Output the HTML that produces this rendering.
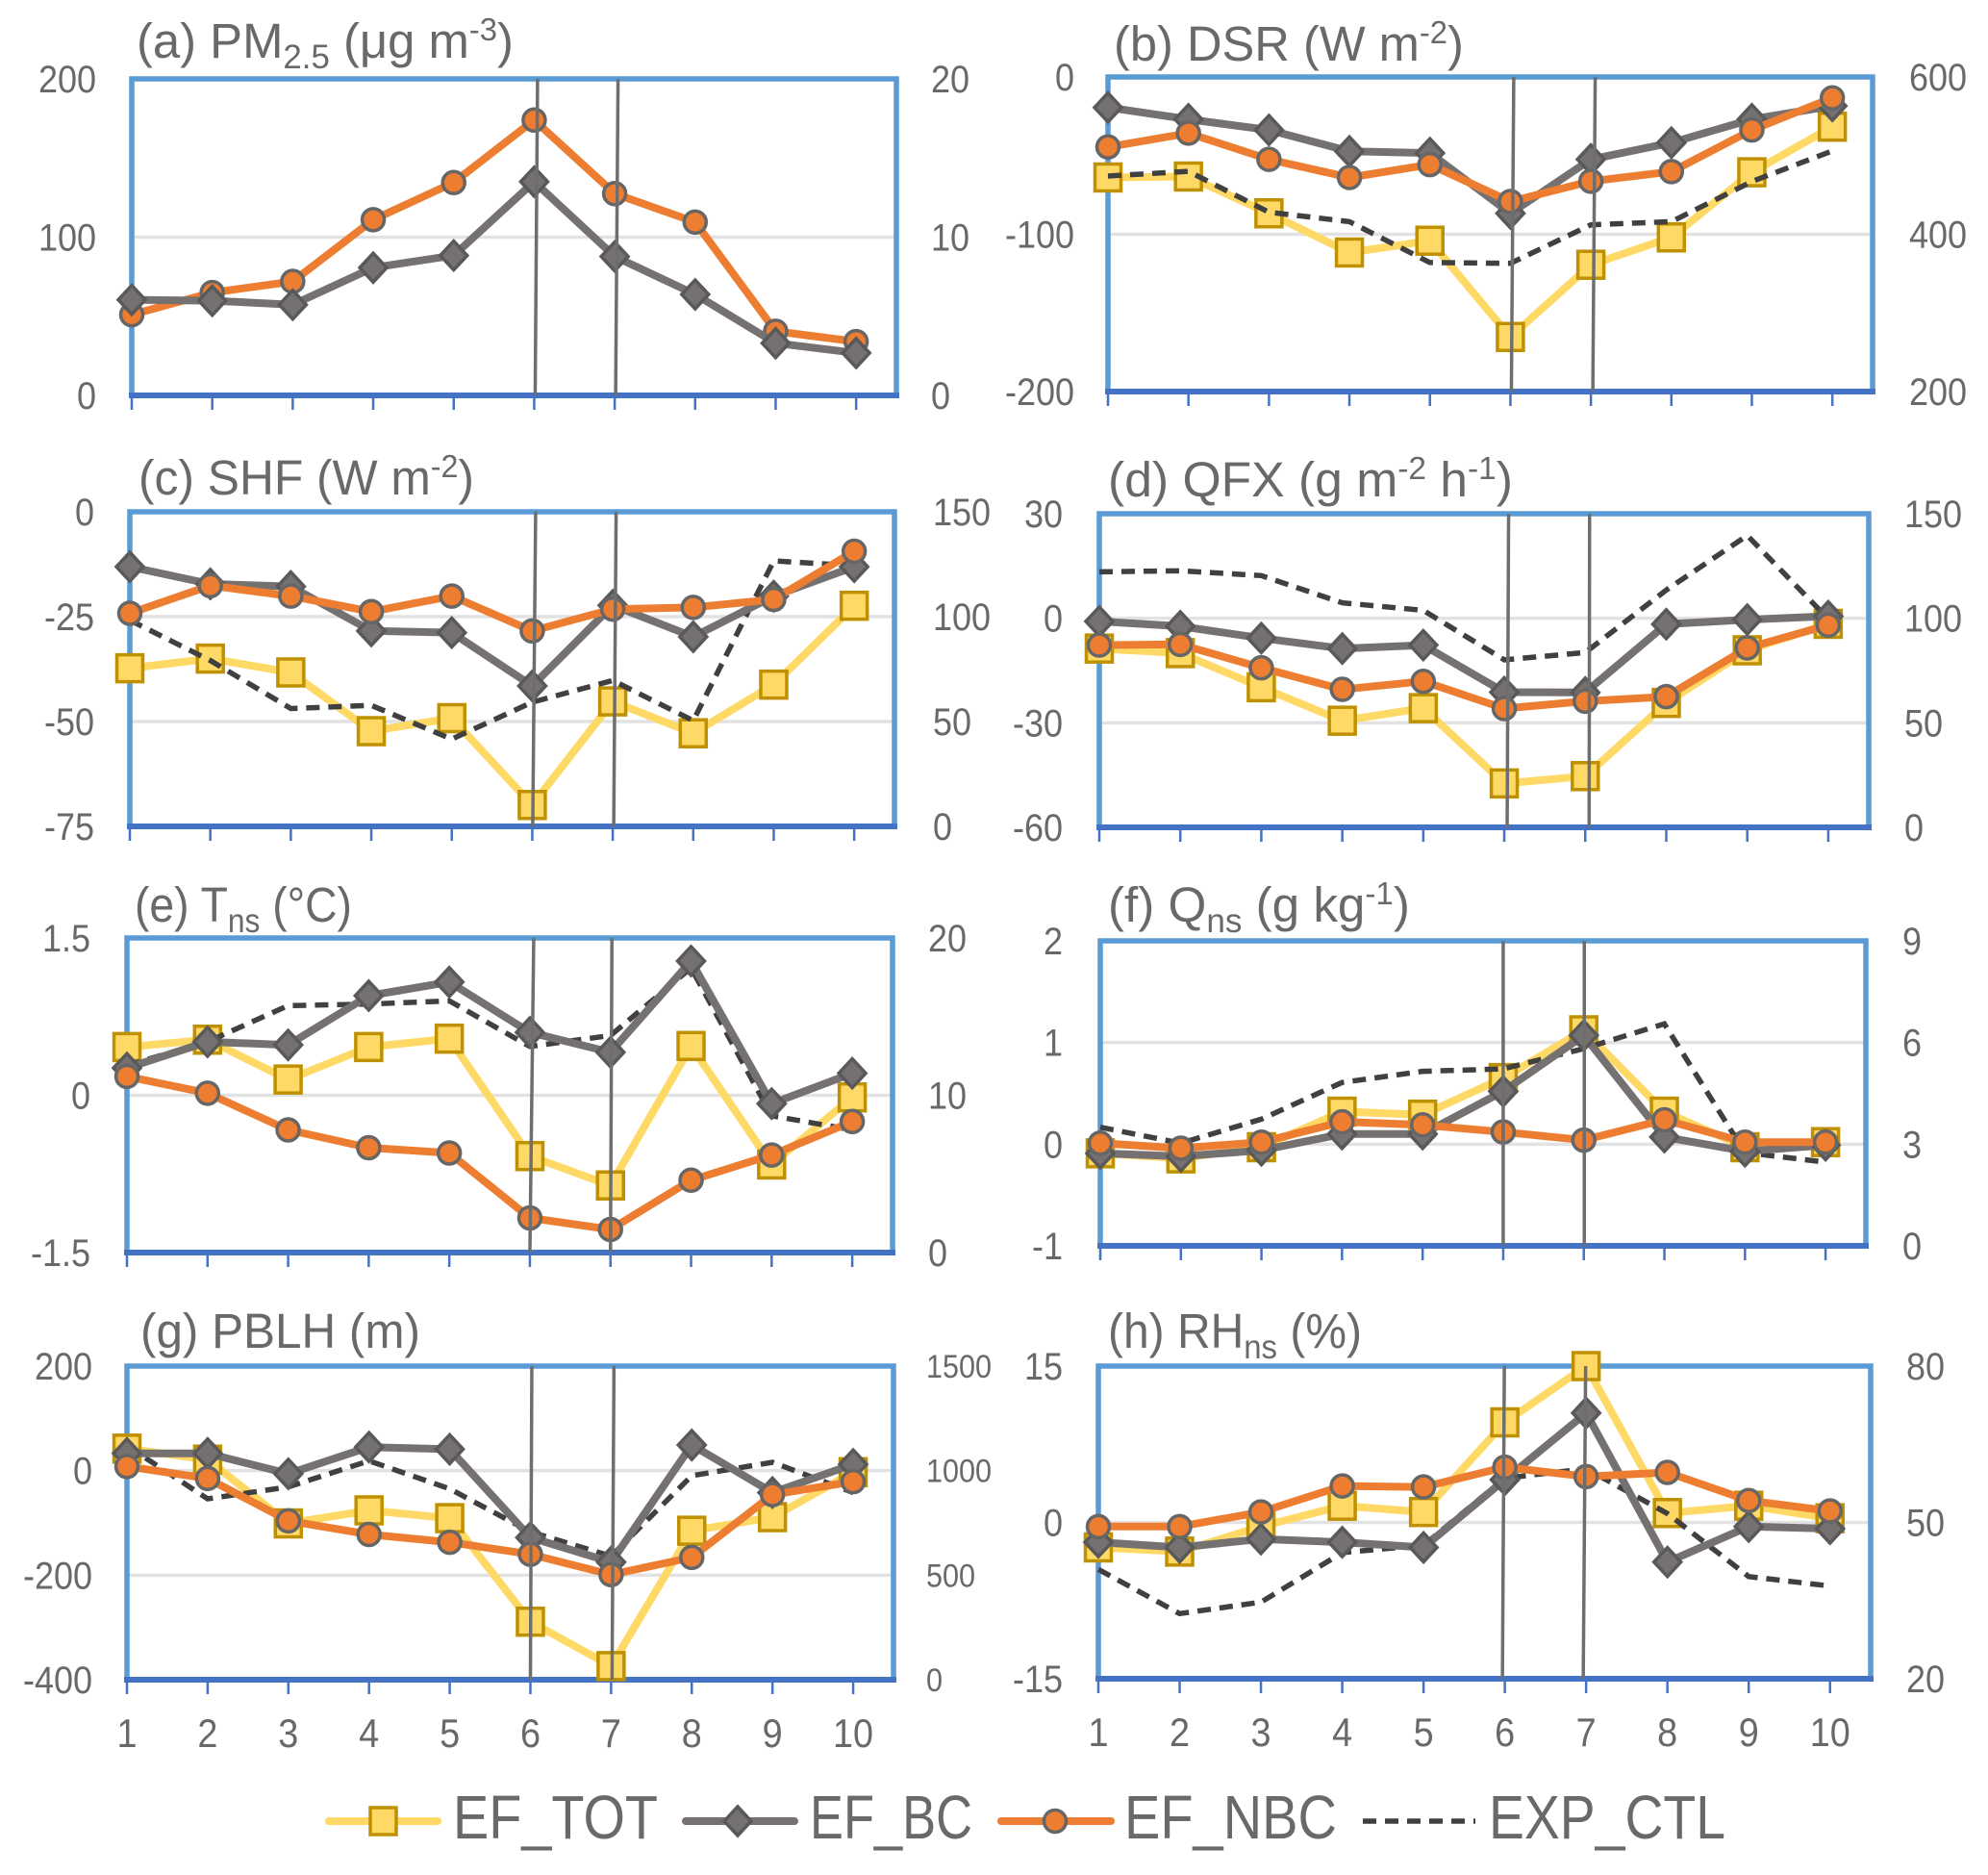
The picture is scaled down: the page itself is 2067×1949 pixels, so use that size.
<!DOCTYPE html>
<html lang="en">
<head>
<meta charset="utf-8">
<title>EF monthly response panels</title>
<style>
html,body{margin:0;padding:0;background:#fff;}
svg{display:block;}
text{font-family:"Liberation Sans",sans-serif;fill:#696969;}
</style>
</head>
<body>
<svg id="chart" width="2067" height="1949" viewBox="0 0 2067 1949" xmlns="http://www.w3.org/2000/svg">
  <rect width="2067" height="1949" fill="#ffffff"/>
  <g id="panels"></g>
  <g id="titles" font-size="51">
    <text class="fit" data-x0="142" data-x1="534" data-base="60">(a) PM<tspan font-size="35" dy="11">2.5</tspan><tspan dy="-11"> (μg m</tspan><tspan font-size="33" dy="-18">-3</tspan><tspan dy="18">)</tspan></text>
    <text class="fit" data-x0="1158" data-x1="1522" data-base="63">(b) DSR (W m<tspan font-size="33" dy="-18">-2</tspan><tspan dy="18">)</tspan></text>
    <text class="fit" data-x0="144" data-x1="493" data-base="514">(c) SHF (W m<tspan font-size="33" dy="-18">-2</tspan><tspan dy="18">)</tspan></text>
    <text class="fit" data-x0="1152" data-x1="1573" data-base="516">(d) QFX (g m<tspan font-size="33" dy="-18">-2</tspan><tspan dy="18"> h</tspan><tspan font-size="33" dy="-18">-1</tspan><tspan dy="18">)</tspan></text>
    <text class="fit" data-x0="140" data-x1="366" data-base="958">(e) T<tspan font-size="35" dy="11">ns</tspan><tspan dy="-11"> (°C)</tspan></text>
    <text class="fit" data-x0="1152" data-x1="1466" data-base="958">(f) Q<tspan font-size="35" dy="11">ns</tspan><tspan dy="-11"> (g kg</tspan><tspan font-size="33" dy="-18">-1</tspan><tspan dy="18">)</tspan></text>
    <text class="fit" data-x0="146" data-x1="437" data-base="1401">(g) PBLH (m)</text>
    <text class="fit" data-x0="1152" data-x1="1416" data-base="1401">(h) RH<tspan font-size="35" dy="11">ns</tspan><tspan dy="-11"> (%)</tspan></text>
  </g>
  <g id="legend">
    <g>
      <line x1="342" y1="1893" x2="455" y2="1893" stroke="#FFD966" stroke-width="8" stroke-linecap="round"/>
      <rect x="385" y="1879" width="27" height="28" fill="#FFD966" stroke="#BF9000" stroke-width="3.5"/>
      <text class="fit" data-x0="471" data-x1="684" data-base="1911" font-size="64">EF_TOT</text>
    </g>
    <g>
      <line x1="713" y1="1893" x2="826" y2="1893" stroke="#767171" stroke-width="8" stroke-linecap="round"/>
      <polygon points="767,1878 781,1893 767,1908 753,1893" fill="#767171" stroke="#595959" stroke-width="3.5"/>
      <text class="fit" data-x0="842" data-x1="1011" data-base="1911" font-size="64">EF_BC</text>
    </g>
    <g>
      <line x1="1041" y1="1893" x2="1155" y2="1893" stroke="#ED7D31" stroke-width="8" stroke-linecap="round"/>
      <circle cx="1097" cy="1893" r="11.5" fill="#ED7D31" stroke="#666666" stroke-width="3.5"/>
      <text class="fit" data-x0="1169" data-x1="1390" data-base="1911" font-size="64">EF_NBC</text>
    </g>
    <g>
      <line x1="1417" y1="1893" x2="1534" y2="1893" stroke="#404040" stroke-width="5.5" stroke-dasharray="14 9"/>
      <text class="fit" data-x0="1548" data-x1="1794" data-base="1911" font-size="64">EXP_CTL</text>
    </g>
  </g>
</svg>
<script>
// ---- shared categories ----
const categories = [1, 2, 3, 4, 5, 6, 7, 8, 9, 10];

// ---- (a) PM2.5 ----
const pmLeftTicks = [200, 100, 0];
const pmRightTicks = [20, 10, 0];
const pmBc = [60.4, 59.8, 57.3, 80.7, 88.4, 135, 87.8, 63.8, 33, 26.8];
const pmNbc = [51, 65, 72, 111, 134.5, 174, 127.5, 109.5, 40.5, 34];

// ---- (b) DSR ----
const dsrLeftTicks = [0, -100, -200];
const dsrRightTicks = [600, 400, 200];
const dsrTot = [-63.9, -63.3, -86.7, -111.6, -104.1, -165.3, -119.4, -102, -60.6, -31.6];
const dsrBc = [-19.4, -26.9, -33.7, -47.3, -48.4, -86.7, -52.4, -41.8, -26.9, -18.4];
const dsrNbc = [-44.5, -35.7, -52.4, -63.9, -55.7, -79.2, -66.3, -60.2, -33.7, -13.3];
const dsrCtl = [474, 480, 428, 416, 364, 363, 412, 416, 467, 506];

// ---- (c) SHF ----
const shfLeftTicks = [0, -25, -50, -75];
const shfRightTicks = [150, 100, 50, 0];
const shfTot = [-37.3, -35, -38.3, -52.3, -49.2, -69.9, -45.2, -52.8, -41.2, -22.4];
const shfBc = [-13.1, -17.2, -17.8, -28.4, -28.8, -41.5, -22.3, -29.8, -20.1, -13.1];
const shfNbc = [-24.2, -17.6, -20.1, -23.8, -20.1, -28.4, -23.2, -22.8, -20.9, -9.4];
const shfCtl = [98.3, 79.1, 56.2, 57.7, 41.6, 59.2, 69.6, 50.4, 126.6, 124.3];

// ---- (d) QFX ----
const qfxLeftTicks = [30, 0, -30, -60];
const qfxRightTicks = [150, 100, 50, 0];
const qfxTot = [-8.7, -10, -19.8, -29.4, -25.8, -47.4, -45.3, -24.3, -9.2, -1.6];
const qfxBc = [-0.9, -2.3, -5.7, -8.7, -7.7, -21.2, -21.3, -1.7, -0.4, 0.6];
const qfxNbc = [-7.7, -7.5, -14.2, -20.4, -18.1, -25.9, -23.8, -22.5, -8.5, -2];
const qfxCtl = [122.2, 122.7, 120.4, 107.4, 103.8, 80.1, 83.6, 113.5, 139.6, 99.7];

// ---- (e) Tns ----
const tnsLeftTicks = [1.5, 0, -1.5];
const tnsRightTicks = [20, 10, 0];
const tnsTot = [0.46, 0.53, 0.15, 0.46, 0.54, -0.58, -0.86, 0.47, -0.66, -0.02];
const tnsBc = [0.26, 0.51, 0.48, 0.95, 1.08, 0.6, 0.41, 1.28, -0.08, 0.21];
const tnsNbc = [0.18, 0.02, -0.33, -0.5, -0.55, -1.17, -1.28, -0.81, -0.57, -0.25];
const tnsCtl = [11.9, 13.4, 15.7, 15.8, 16.0, 13.1, 13.8, 18.1, 8.7, 7.8];

// ---- (f) Qns ----
const qnsLeftTicks = [2, 1, 0, -1];
const qnsRightTicks = [9, 6, 3, 0];
const qnsTot = [-0.09, -0.14, -0.03, 0.32, 0.29, 0.65, 1.12, 0.32, -0.03, 0.02];
const qnsBc = [-0.09, -0.12, -0.06, 0.1, 0.1, 0.52, 1.07, 0.07, -0.07, -0.01];
const qnsNbc = [0.01, -0.04, 0.02, 0.22, 0.19, 0.12, 0.04, 0.24, 0.02, 0.02];
const qnsCtl = [3.5, 3.03, 3.74, 4.82, 5.15, 5.22, 5.82, 6.55, 2.75, 2.47];

// ---- (g) PBLH ----
const pblhLeftTicks = [200, 0, -200, -400];
const pblhRightTicks = [1500, 1000, 500, 0];
const pblhTot = [42, 21, -101, -76, -91, -289, -374, -115, -89, -3];
const pblhBc = [33, 33, -6, 45, 41, -128, -175, 49, -42, 12];
const pblhNbc = [8, -15, -96, -122, -137, -160, -199, -166, -46, -21];
const pblhCtl = [1119, 865, 922, 1047, 913, 707, 591, 976, 1040, 895];

// ---- (h) RHns ----
const rhLeftTicks = [15, 0, -15];
const rhRightTicks = [80, 50, 20];
const rhTot = [-2.4, -2.8, -0.4, 1.6, 1, 9.6, 15, 0.9, 1.6, 0.4];
const rhBc = [-1.9, -2.4, -1.6, -1.9, -2.4, 4.1, 10.5, -3.8, -0.4, -0.6];
const rhNbc = [-0.4, -0.4, 1, 3.5, 3.4, 5.3, 4.4, 4.8, 2.1, 1.1];
const rhCtl = [41, 32.5, 34.7, 44.2, 45.6, 58.5, 60.3, 51.7, 39.6, 37.8];

// ---- panel layout ----
const panels = [
  {id:'a', L:137, R:932, T:82, B:411, lRight:100, rLeft:968, rSize:40, lt:pmLeftTicks, rt:pmRightTicks, nbc:pmNbc, bc:pmBc, bcOver:true, v:[[1,3.5],[1,3.5]]},
  {id:'b', L:1152, R:1947, T:80, B:407, lRight:1117, rLeft:1985, rSize:40, lt:dsrLeftTicks, rt:dsrRightTicks, tot:dsrTot, bc:dsrBc, nbc:dsrNbc, ctl:dsrCtl, v:[[1,3.5],[2,4.5]]},
  {id:'c', L:135, R:930, T:532, B:859, lRight:98, rLeft:970, rSize:40, lt:shfLeftTicks, rt:shfRightTicks, tot:shfTot, bc:shfBc, nbc:shfNbc, ctl:shfCtl, v:[[0.5,3.5],[1,3.5]]},
  {id:'d', L:1143, R:1943, T:534, B:860, lRight:1105, rLeft:1980, rSize:40, lt:qfxLeftTicks, rt:qfxRightTicks, tot:qfxTot, bc:qfxBc, nbc:qfxNbc, ctl:qfxCtl, v:[[3,4.5],[4,4.5]]},
  {id:'e', L:132, R:928, T:975, B:1302, lRight:94, rLeft:965, rSize:40, lt:tnsLeftTicks, rt:tnsRightTicks, tot:tnsTot, bc:tnsBc, nbc:tnsNbc, ctl:tnsCtl, v:[[0,4],[0,1.5]]},
  {id:'f', L:1144, R:1940, T:978, B:1295, lRight:1105, rLeft:1978, rSize:40, lt:qnsLeftTicks, rt:qnsRightTicks, tot:qnsTot, bc:qnsBc, nbc:qnsNbc, ctl:qnsCtl, v:[[0,0],[0.5,0.5]]},
  {id:'g', L:132, R:929, T:1420, B:1746, lRight:96, rLeft:963, rSize:34, lt:pblhLeftTicks, rt:pblhRightTicks, tot:pblhTot, bc:pblhBc, nbc:pblhNbc, ctl:pblhCtl, v:[[0,1.5],[1,3]], xLabels:true},
  {id:'h', L:1142, R:1945, T:1420, B:1745, lRight:1105, rLeft:1982, rSize:40, lt:rhLeftTicks, rt:rhRightTicks, tot:rhTot, bc:rhBc, nbc:rhNbc, ctl:rhCtl, v:[[-2.5,-0.5],[-3,-0.5]], xLabels:true}
];

const NS = 'http://www.w3.org/2000/svg';
const SPAN = 9.5;
const NARROW = 0.9;

function make(tag, attrs, parent) {
  const el = document.createElementNS(NS, tag);
  for (const k in attrs) el.setAttribute(k, attrs[k]);
  parent.appendChild(el);
  return el;
}
function xScale(p, c) { return p.L + (c - 1) * (p.R - p.L) / SPAN; }
function axisY(p, ticks, v) {
  const hi = ticks[0], lo = ticks[ticks.length - 1];
  return p.T + (hi - v) / (hi - lo) * (p.B - p.T);
}
function linePath(p, ticks, values) {
  return values.map(function (v, i) {
    return xScale(p, categories[i]).toFixed(1) + ',' + axisY(p, ticks, v).toFixed(1);
  }).join(' ');
}
function narrowText(parent, x, y, size, anchor, str) {
  const t = make('text', {transform:'translate(' + x + ',' + y + ') scale(' + NARROW + ',1)', 'text-anchor':anchor, 'font-size':size}, parent);
  t.textContent = str;
  return t;
}

function drawMarker(kind, x, y, g) {
  let m;
  if (kind === 'tot') {
    m = make('rect', {x:x-13.5, y:y-14, width:27, height:28, fill:'#FFD966', stroke:'#BF9000', 'stroke-width':3.5}, g);
  } else if (kind === 'bc') {
    const pts = x+','+(y-15)+' '+(x+14)+','+y+' '+x+','+(y+15)+' '+(x-14)+','+y;
    m = make('polygon', {points:pts, fill:'#767171', stroke:'#595959', 'stroke-width':3.5}, g);
  } else {
    m = make('circle', {cx:x, cy:y, r:11.5, fill:'#ED7D31', stroke:'#666666', 'stroke-width':3.5}, g);
  }
  return m;
}

function drawSeries(p, kind, values, g) {
  const colors = {tot:'#FFD966', bc:'#767171', nbc:'#ED7D31'};
  const sg = make('g', {}, g);
  
  
  const line = make('polyline', {points:linePath(p, p.lt, values), fill:'none', stroke:colors[kind], 'stroke-width':8, 'stroke-linejoin':'round'}, sg);
  
  
  values.forEach(function (v, i) {
    const m = drawMarker(kind, xScale(p, categories[i]), axisY(p, p.lt, v), sg);
    
    
  });
}

const root = document.getElementById('panels');
panels.forEach(function (p) {
  const g = make('g', {}, root);
  
  

  // gridlines
  p.lt.slice(1, -1).forEach(function (t) {
    const y = axisY(p, p.lt, t);
    const gl = make('line', {x1:p.L, x2:p.R, y1:y, y2:y, stroke:'#E2E2E2', 'stroke-width':3.5}, g);
    
    
  });

  // frame
  const fr = make('polyline', {points:p.L+','+p.B+' '+p.L+','+p.T+' '+p.R+','+p.T+' '+p.R+','+p.B, fill:'none', stroke:'#5B9BD5', 'stroke-width':5.5}, g);
  
  
  const ax = make('line', {x1:p.L-3, x2:p.R+3, y1:p.B, y2:p.B, stroke:'#4472C4', 'stroke-width':6}, g);
  
  

  // x ticks and labels
  categories.forEach(function (c) {
    const x = xScale(p, c);
    const tk = make('line', {x1:x, x2:x, y1:p.B, y2:p.B+15, stroke:'#4472C4', 'stroke-width':2.5}, g);
    
    
    if (p.xLabels) {
      const xl = narrowText(g, x, p.B + 70, 42, 'middle', String(c));
      
      
    }
  });

  // y tick labels
  p.lt.forEach(function (t) {
    const tl = narrowText(g, p.lRight, axisY(p, p.lt, t) + 14, 40, 'end', String(t));
    
    
  });
  p.rt.forEach(function (t) {
    const tr = narrowText(g, p.rLeft, axisY(p, p.rt, t) + (p.rSize === 40 ? 14 : 12), p.rSize, 'start', String(t));
    
    
  });

  // series
  if (p.tot) drawSeries(p, 'tot', p.tot, g);
  if (p.ctl) {
    const ctl = make('polyline', {points:linePath(p, p.rt, p.ctl), fill:'none', stroke:'#404040', 'stroke-width':5.5, 'stroke-dasharray':'14 9'}, g);
    
    
  }
  if (p.bcOver) {
    drawSeries(p, 'nbc', p.nbc, g);
    drawSeries(p, 'bc', p.bc, g);
  } else {
    drawSeries(p, 'bc', p.bc, g);
    drawSeries(p, 'nbc', p.nbc, g);
  }

  // vertical marker lines at categories 6 and 7
  [6, 7].forEach(function (c, i) {
    const x = xScale(p, c);
    const vl = make('line', {x1:x+p.v[i][0], y1:p.B, x2:x+p.v[i][1], y2:p.T, stroke:'#6E6E6E', 'stroke-width':3.5}, g);
    
    
  });
});

// stretch titles and legend labels to their measured extents
document.querySelectorAll('text.fit').forEach(function (t) {
  const x0 = +t.getAttribute('data-x0');
  const x1 = +t.getAttribute('data-x1');
  const base = +t.getAttribute('data-base');
  const w = t.getComputedTextLength();
  t.setAttribute('transform', 'translate(' + x0 + ',' + base + ') scale(' + ((x1 - x0) / w).toFixed(4) + ',1)');
});
</script>
</body>
</html>
